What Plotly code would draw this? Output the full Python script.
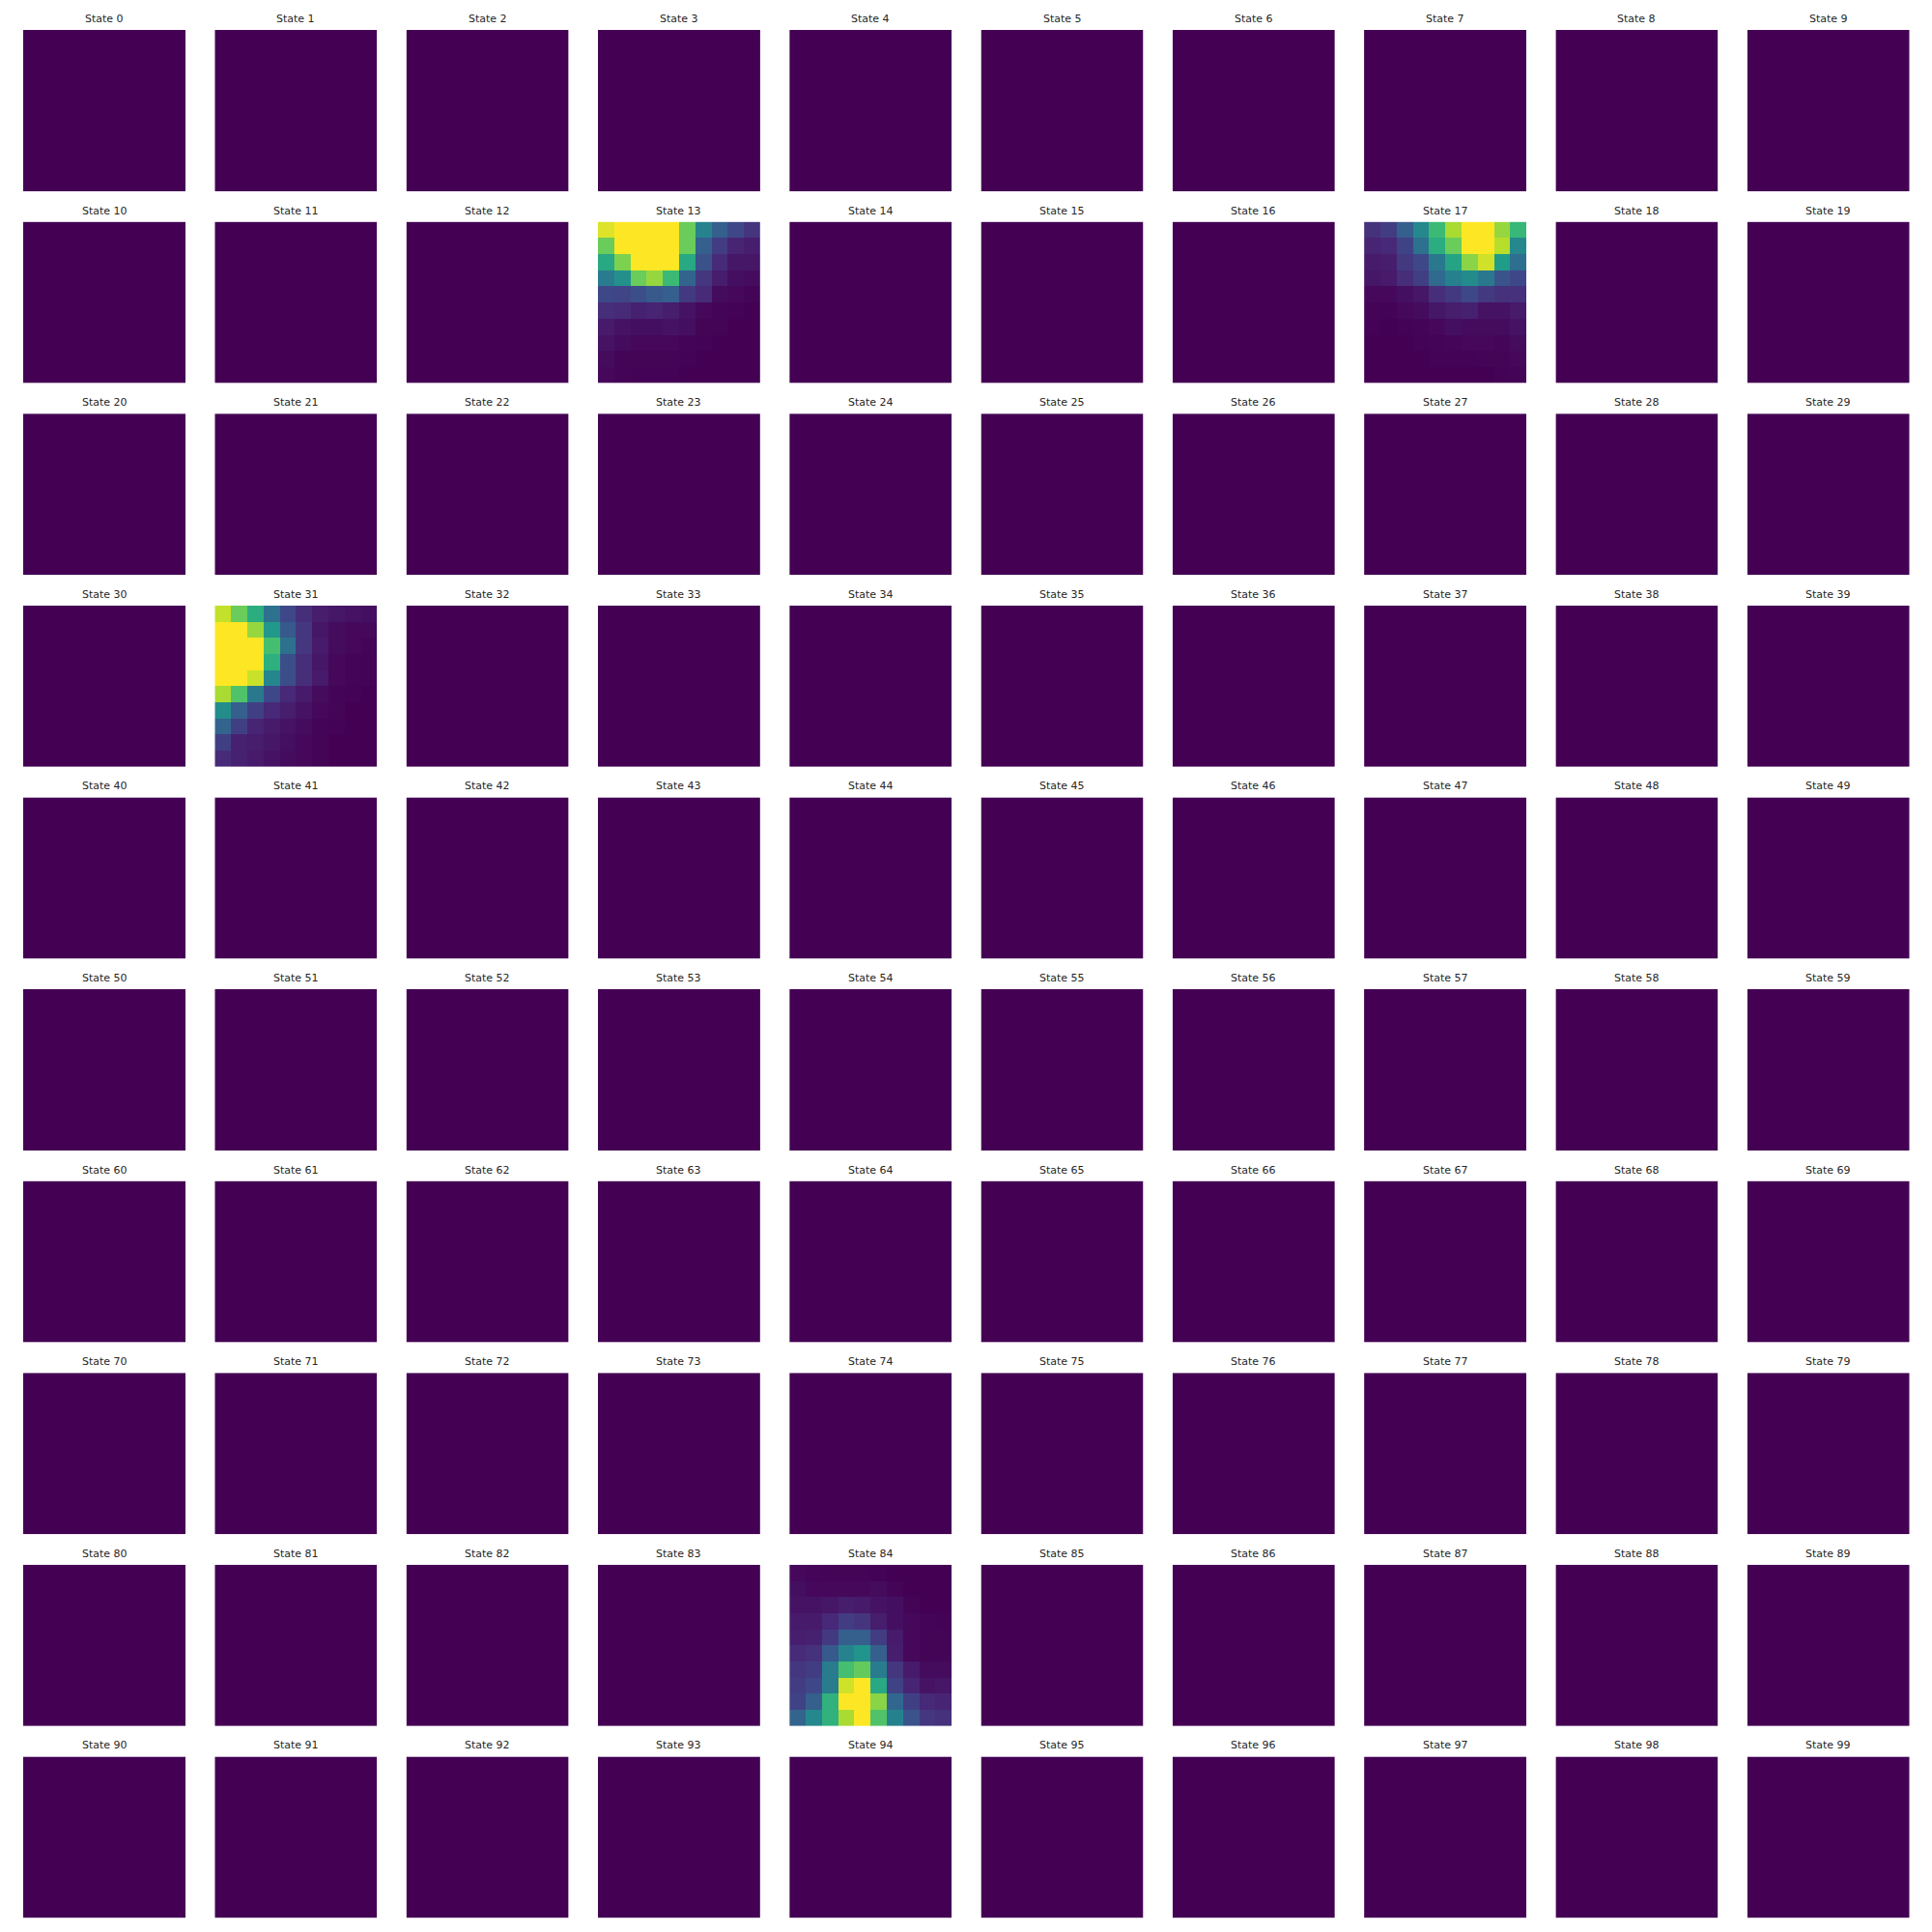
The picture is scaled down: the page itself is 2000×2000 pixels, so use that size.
import plotly.graph_objects as go

# ---- data ----
n_states = 100
state_labels = [f"State {i}" for i in range(n_states)]

state_13 = [
    [0.95, 1.0, 1.0, 1.0, 1.0, 0.77, 0.45, 0.30, 0.22, 0.15],
    [0.77, 1.0, 1.0, 1.0, 1.0, 0.77, 0.30, 0.18, 0.10, 0.08],
    [0.60, 0.80, 1.0, 1.0, 1.0, 0.60, 0.25, 0.12, 0.06, 0.06],
    [0.42, 0.50, 0.77, 0.84, 0.68, 0.32, 0.16, 0.08, 0.04, 0.03],
    [0.22, 0.21, 0.24, 0.28, 0.30, 0.17, 0.12, 0.03, 0.02, 0.01],
    [0.13, 0.12, 0.09, 0.10, 0.08, 0.05, 0.02, 0.01, 0.005, 0.0],
    [0.07, 0.05, 0.04, 0.04, 0.05, 0.04, 0.01, 0.01, 0.0, 0.0],
    [0.05, 0.03, 0.02, 0.02, 0.02, 0.01, 0.005, 0.0, 0.0, 0.0],
    [0.03, 0.01, 0.01, 0.01, 0.01, 0.005, 0.0, 0.0, 0.0, 0.0],
    [0.02, 0.01, 0.005, 0.005, 0.005, 0.0, 0.0, 0.0, 0.0, 0.0],
]

state_17 = [
    [0.14, 0.18, 0.30, 0.47, 0.68, 0.87, 1.0, 1.0, 0.84, 0.67],
    [0.10, 0.11, 0.20, 0.37, 0.62, 0.77, 1.0, 1.0, 0.89, 0.47],
    [0.07, 0.08, 0.17, 0.22, 0.40, 0.58, 0.82, 0.93, 0.55, 0.36],
    [0.06, 0.07, 0.13, 0.19, 0.34, 0.44, 0.48, 0.40, 0.26, 0.22],
    [0.02, 0.02, 0.04, 0.06, 0.13, 0.17, 0.22, 0.17, 0.14, 0.14],
    [0.01, 0.005, 0.02, 0.03, 0.06, 0.08, 0.09, 0.05, 0.05, 0.07],
    [0.005, 0.0, 0.005, 0.01, 0.02, 0.04, 0.03, 0.03, 0.03, 0.05],
    [0.0, 0.0, 0.0, 0.005, 0.01, 0.015, 0.02, 0.02, 0.015, 0.03],
    [0.0, 0.0, 0.0, 0.0, 0.005, 0.005, 0.005, 0.01, 0.01, 0.02],
    [0.0, 0.0, 0.0, 0.0, 0.0, 0.0, 0.0, 0.0, 0.005, 0.01],
]

state_31 = [
    [0.91, 0.77, 0.62, 0.37, 0.22, 0.13, 0.08, 0.06, 0.05, 0.04],
    [1.0, 1.0, 0.84, 0.53, 0.28, 0.16, 0.06, 0.03, 0.02, 0.02],
    [1.0, 1.0, 1.0, 0.70, 0.37, 0.16, 0.07, 0.03, 0.02, 0.01],
    [1.0, 1.0, 1.0, 0.63, 0.24, 0.13, 0.06, 0.02, 0.01, 0.005],
    [1.0, 1.0, 0.92, 0.46, 0.24, 0.13, 0.07, 0.02, 0.01, 0.005],
    [0.87, 0.72, 0.40, 0.22, 0.11, 0.07, 0.03, 0.01, 0.005, 0.0],
    [0.49, 0.30, 0.19, 0.11, 0.08, 0.05, 0.02, 0.01, 0.0, 0.0],
    [0.32, 0.19, 0.10, 0.07, 0.05, 0.03, 0.01, 0.005, 0.0, 0.0],
    [0.19, 0.09, 0.08, 0.06, 0.04, 0.02, 0.01, 0.0, 0.0, 0.0],
    [0.12, 0.09, 0.07, 0.05, 0.03, 0.02, 0.01, 0.0, 0.0, 0.0],
]

state_84 = [
    [0.02, 0.015, 0.01, 0.01, 0.01, 0.005, 0.0, 0.0, 0.0, 0.0],
    [0.04, 0.02, 0.02, 0.02, 0.02, 0.03, 0.01, 0.0, 0.0, 0.0],
    [0.05, 0.05, 0.06, 0.08, 0.07, 0.05, 0.04, 0.01, 0.0, 0.0],
    [0.07, 0.07, 0.11, 0.18, 0.15, 0.08, 0.04, 0.02, 0.01, 0.005],
    [0.08, 0.09, 0.17, 0.30, 0.30, 0.18, 0.07, 0.02, 0.01, 0.01],
    [0.12, 0.14, 0.28, 0.45, 0.52, 0.30, 0.08, 0.02, 0.01, 0.01],
    [0.16, 0.18, 0.42, 0.70, 0.76, 0.42, 0.16, 0.07, 0.03, 0.03],
    [0.18, 0.22, 0.42, 0.93, 1.0, 0.60, 0.20, 0.10, 0.05, 0.06],
    [0.20, 0.30, 0.64, 1.0, 1.0, 0.82, 0.33, 0.19, 0.11, 0.10],
    [0.32, 0.47, 0.64, 0.87, 1.0, 0.72, 0.44, 0.26, 0.16, 0.14],
]

active_states = {13: state_13, 17: state_17, 31: state_31, 84: state_84}
grid_size = 10
zero_grid = [[0.0] * grid_size for _ in range(grid_size)]

# ---- layout geometry (pixels) ----
W = H = 2000
left0, top0 = 24.0, 31.0
pitch_x, pitch_y = 198.3, 198.6
pw, ph = 168.0, 167.0

fig = go.Figure()
layout_axes = {}
annotations = []

for i in range(n_states):
    r, c = divmod(i, 10)
    z = active_states.get(i, zero_grid)
    ax_id = "" if i == 0 else str(i + 1)
    fig.add_trace(go.Heatmap(
        z=z, zmin=0, zmax=1, colorscale="Viridis", showscale=False,
        xaxis="x" + ax_id, yaxis="y" + ax_id, hoverinfo="skip",
    ))
    x0 = left0 + c * pitch_x
    y0 = top0 + r * pitch_y
    layout_axes["xaxis" + ax_id] = dict(
        domain=[x0 / W, (x0 + pw) / W], range=[-0.5, grid_size - 0.5],
        visible=False, showgrid=False, zeroline=False,
        anchor="y" + ax_id,
    )
    layout_axes["yaxis" + ax_id] = dict(
        domain=[1 - (y0 + ph) / H, 1 - y0 / H], range=[grid_size - 0.5, -0.5],
        visible=False, showgrid=False, zeroline=False,
        anchor="x" + ax_id,
    )
    annotations.append(dict(
        text=state_labels[i], x=(x0 + pw / 2) / W, y=1 - (y0 - 3) / H,
        xref="paper", yref="paper", xanchor="center", yanchor="bottom",
        showarrow=False, font=dict(family="DejaVu Sans", size=11, color="#262626"),
    ))

fig.update_layout(
    width=W, height=H, margin=dict(l=0, r=0, t=0, b=0),
    paper_bgcolor="white", plot_bgcolor="white",
    annotations=annotations, showlegend=False,
    **layout_axes,
)

fig.write_html("out.html")
